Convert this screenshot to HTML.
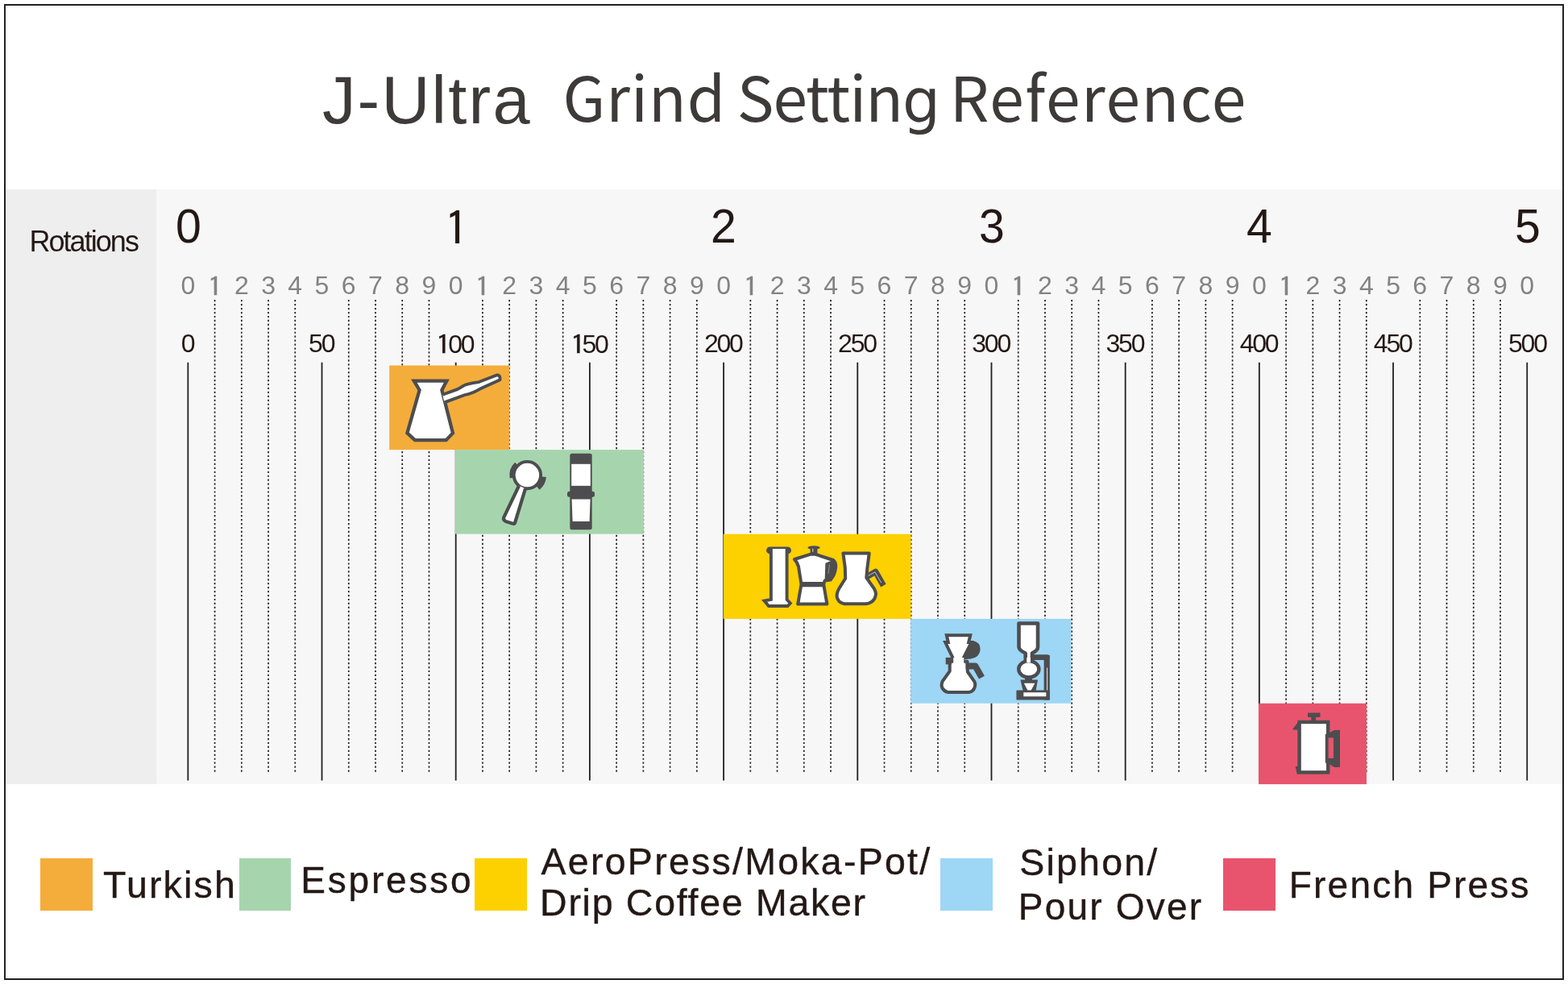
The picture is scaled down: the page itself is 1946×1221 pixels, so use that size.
<!DOCTYPE html>
<html><head><meta charset="utf-8"><title>J-Ultra Grind Setting Reference</title>
<style>
html,body{margin:0;padding:0;background:#fff;}
body{width:1946px;height:1221px;position:relative;overflow:hidden;font-family:"Liberation Sans",Arial,sans-serif;color:#231815;}
.frame{position:absolute;left:5px;top:5px;width:1936px;height:1211px;box-sizing:border-box;border:2px solid #231f20;}
.panel{position:absolute;left:7px;top:235px;width:1932px;height:737.7px;background:#f7f7f7;}
.col{position:absolute;left:7px;top:235px;width:187px;height:737.7px;background:#eeeeee;}
svg.ov{position:absolute;left:0;top:0;}
.t{position:absolute;white-space:pre;line-height:1;}
.sd,.vl,.rt{position:absolute;text-align:center;line-height:1;white-space:pre;}
.sd{width:40px;top:338px;font-size:32px;color:#838383;}
.vl{width:100px;top:410px;font-size:32px;letter-spacing:-2.2px;}
.rt{width:80px;top:252px;font-size:59px;transform:scaleX(0.97);}
.o{font-family:"IPAGothic",sans-serif;display:inline-block;transform:scaleX(1.18);-webkit-text-stroke:0.35px currentColor;}
.sd .o{-webkit-text-stroke:0.3px currentColor;}
.rt .o{-webkit-text-stroke:0px currentColor;transform:scaleX(1.08);}
.sd .o{position:relative;top:2.0px;left:0.4px;font-size:32px;}
.vl .o{position:relative;top:2.0px;left:0px;font-size:32px;}
.rt .o{position:relative;top:0.5px;left:0.6px;font-size:59px;}
.sw{position:absolute;top:1065.0px;width:64.6px;height:64.5px;}
.cjk{font-family:"Noto Sans CJK SC","Liberation Sans",sans-serif;}
.gg{font-family:"DejaVu Sans",sans-serif;font-size:74px;}
</style></head><body>
<div class="frame"></div>
<div class="panel"></div>
<div class="col"></div>
<svg class="ov" width="1946" height="1221" viewBox="0 0 1946 1221">
<line x1="233.33" y1="449.8" x2="233.33" y2="968.6" stroke="#231f20" stroke-width="1.8"/>
<line x1="266.57" y1="372.1" x2="266.57" y2="957.8" stroke="#231f20" stroke-width="1.7" stroke-dasharray="2.2 2.744"/>
<line x1="299.81" y1="372.1" x2="299.81" y2="957.8" stroke="#231f20" stroke-width="1.7" stroke-dasharray="2.2 2.744"/>
<line x1="333.04" y1="372.1" x2="333.04" y2="957.8" stroke="#231f20" stroke-width="1.7" stroke-dasharray="2.2 2.744"/>
<line x1="366.28" y1="372.1" x2="366.28" y2="957.8" stroke="#231f20" stroke-width="1.7" stroke-dasharray="2.2 2.744"/>
<line x1="399.52" y1="449.8" x2="399.52" y2="968.6" stroke="#231f20" stroke-width="1.8"/>
<line x1="432.76" y1="372.1" x2="432.76" y2="957.8" stroke="#231f20" stroke-width="1.7" stroke-dasharray="2.2 2.744"/>
<line x1="466.0" y1="372.1" x2="466.0" y2="957.8" stroke="#231f20" stroke-width="1.7" stroke-dasharray="2.2 2.744"/>
<line x1="499.23" y1="372.1" x2="499.23" y2="957.8" stroke="#231f20" stroke-width="1.7" stroke-dasharray="2.2 2.744"/>
<line x1="532.47" y1="372.1" x2="532.47" y2="957.8" stroke="#231f20" stroke-width="1.7" stroke-dasharray="2.2 2.744"/>
<line x1="565.71" y1="449.8" x2="565.71" y2="968.6" stroke="#231f20" stroke-width="1.8"/>
<line x1="598.95" y1="372.1" x2="598.95" y2="957.8" stroke="#231f20" stroke-width="1.7" stroke-dasharray="2.2 2.744"/>
<line x1="632.19" y1="372.1" x2="632.19" y2="957.8" stroke="#231f20" stroke-width="1.7" stroke-dasharray="2.2 2.744"/>
<line x1="665.42" y1="372.1" x2="665.42" y2="957.8" stroke="#231f20" stroke-width="1.7" stroke-dasharray="2.2 2.744"/>
<line x1="698.66" y1="372.1" x2="698.66" y2="957.8" stroke="#231f20" stroke-width="1.7" stroke-dasharray="2.2 2.744"/>
<line x1="731.9" y1="449.8" x2="731.9" y2="968.6" stroke="#231f20" stroke-width="1.8"/>
<line x1="765.14" y1="372.1" x2="765.14" y2="957.8" stroke="#231f20" stroke-width="1.7" stroke-dasharray="2.2 2.744"/>
<line x1="798.38" y1="372.1" x2="798.38" y2="957.8" stroke="#231f20" stroke-width="1.7" stroke-dasharray="2.2 2.744"/>
<line x1="831.61" y1="372.1" x2="831.61" y2="957.8" stroke="#231f20" stroke-width="1.7" stroke-dasharray="2.2 2.744"/>
<line x1="864.85" y1="372.1" x2="864.85" y2="957.8" stroke="#231f20" stroke-width="1.7" stroke-dasharray="2.2 2.744"/>
<line x1="898.09" y1="449.8" x2="898.09" y2="968.6" stroke="#231f20" stroke-width="1.8"/>
<line x1="931.33" y1="372.1" x2="931.33" y2="957.8" stroke="#231f20" stroke-width="1.7" stroke-dasharray="2.2 2.744"/>
<line x1="964.57" y1="372.1" x2="964.57" y2="957.8" stroke="#231f20" stroke-width="1.7" stroke-dasharray="2.2 2.744"/>
<line x1="997.8" y1="372.1" x2="997.8" y2="957.8" stroke="#231f20" stroke-width="1.7" stroke-dasharray="2.2 2.744"/>
<line x1="1031.04" y1="372.1" x2="1031.04" y2="957.8" stroke="#231f20" stroke-width="1.7" stroke-dasharray="2.2 2.744"/>
<line x1="1064.28" y1="449.8" x2="1064.28" y2="968.6" stroke="#231f20" stroke-width="1.8"/>
<line x1="1097.52" y1="372.1" x2="1097.52" y2="957.8" stroke="#231f20" stroke-width="1.7" stroke-dasharray="2.2 2.744"/>
<line x1="1130.76" y1="372.1" x2="1130.76" y2="957.8" stroke="#231f20" stroke-width="1.7" stroke-dasharray="2.2 2.744"/>
<line x1="1163.99" y1="372.1" x2="1163.99" y2="957.8" stroke="#231f20" stroke-width="1.7" stroke-dasharray="2.2 2.744"/>
<line x1="1197.23" y1="372.1" x2="1197.23" y2="957.8" stroke="#231f20" stroke-width="1.7" stroke-dasharray="2.2 2.744"/>
<line x1="1230.47" y1="449.8" x2="1230.47" y2="968.6" stroke="#231f20" stroke-width="1.8"/>
<line x1="1263.71" y1="372.1" x2="1263.71" y2="957.8" stroke="#231f20" stroke-width="1.7" stroke-dasharray="2.2 2.744"/>
<line x1="1296.95" y1="372.1" x2="1296.95" y2="957.8" stroke="#231f20" stroke-width="1.7" stroke-dasharray="2.2 2.744"/>
<line x1="1330.18" y1="372.1" x2="1330.18" y2="957.8" stroke="#231f20" stroke-width="1.7" stroke-dasharray="2.2 2.744"/>
<line x1="1363.42" y1="372.1" x2="1363.42" y2="957.8" stroke="#231f20" stroke-width="1.7" stroke-dasharray="2.2 2.744"/>
<line x1="1396.66" y1="449.8" x2="1396.66" y2="968.6" stroke="#231f20" stroke-width="1.8"/>
<line x1="1429.9" y1="372.1" x2="1429.9" y2="957.8" stroke="#231f20" stroke-width="1.7" stroke-dasharray="2.2 2.744"/>
<line x1="1463.14" y1="372.1" x2="1463.14" y2="957.8" stroke="#231f20" stroke-width="1.7" stroke-dasharray="2.2 2.744"/>
<line x1="1496.37" y1="372.1" x2="1496.37" y2="957.8" stroke="#231f20" stroke-width="1.7" stroke-dasharray="2.2 2.744"/>
<line x1="1529.61" y1="372.1" x2="1529.61" y2="957.8" stroke="#231f20" stroke-width="1.7" stroke-dasharray="2.2 2.744"/>
<line x1="1562.85" y1="449.8" x2="1562.85" y2="968.6" stroke="#231f20" stroke-width="1.8"/>
<line x1="1596.09" y1="372.1" x2="1596.09" y2="957.8" stroke="#231f20" stroke-width="1.7" stroke-dasharray="2.2 2.744"/>
<line x1="1629.33" y1="372.1" x2="1629.33" y2="957.8" stroke="#231f20" stroke-width="1.7" stroke-dasharray="2.2 2.744"/>
<line x1="1662.56" y1="372.1" x2="1662.56" y2="957.8" stroke="#231f20" stroke-width="1.7" stroke-dasharray="2.2 2.744"/>
<line x1="1695.8" y1="372.1" x2="1695.8" y2="957.8" stroke="#231f20" stroke-width="1.7" stroke-dasharray="2.2 2.744"/>
<line x1="1729.04" y1="449.8" x2="1729.04" y2="968.6" stroke="#231f20" stroke-width="1.8"/>
<line x1="1762.28" y1="372.1" x2="1762.28" y2="957.8" stroke="#231f20" stroke-width="1.7" stroke-dasharray="2.2 2.744"/>
<line x1="1795.52" y1="372.1" x2="1795.52" y2="957.8" stroke="#231f20" stroke-width="1.7" stroke-dasharray="2.2 2.744"/>
<line x1="1828.75" y1="372.1" x2="1828.75" y2="957.8" stroke="#231f20" stroke-width="1.7" stroke-dasharray="2.2 2.744"/>
<line x1="1861.99" y1="372.1" x2="1861.99" y2="957.8" stroke="#231f20" stroke-width="1.7" stroke-dasharray="2.2 2.744"/>
<line x1="1895.23" y1="449.8" x2="1895.23" y2="968.6" stroke="#231f20" stroke-width="1.8"/>
<rect x="483.2" y="453.5" width="149.09999999999997" height="104.60000000000002" fill="#f4ad3b"/>
<rect x="565.0" y="558.1" width="233.89999999999998" height="104.5" fill="#a6d5ad"/>
<rect x="897.8" y="662.7" width="232.70000000000005" height="105.19999999999993" fill="#fdd000"/>
<rect x="1130.2" y="767.9" width="199.0" height="104.89999999999998" fill="#9ed6f5"/>
<rect x="1562.0" y="872.8" width="134.0" height="100.30000000000007" fill="#e8546e"/>
<g fill="#fff" stroke="#4d4d4f" stroke-linejoin="round" stroke-linecap="round">
<!-- Turkish cezve -->
<path d="M513.8,472.6 L554.4,472.6 L548.4,484 L562,537.4 L553.6,546.2 L515,546.2 L505.4,537.4 L520.6,484 Z" stroke-width="4.3" stroke-linejoin="miter"/>
<path d="M549.2,489.8 L567.5,483.1 Q570.5,481.5 573.2,479.8 Q577,477.4 580.6,476.6 Q587,474.8 594.3,474.1 L616.4,465.4 Q619.6,465 620.4,468 L620.6,471.2 L595.8,482.6 Q591.5,485 587.6,486.7 Q582,489 577,490 L551.5,499.4" stroke-width="3.8" stroke-linejoin="round" stroke-linecap="butt"/>
<!-- Espresso portafilter -->
<circle cx="654.4" cy="589.6" r="16.7" stroke-width="3.9"/>
<path d="M635.49,592.93 A19.2,19.2 0 0,1 641.06,575.79" fill="none" stroke-width="5.6" stroke-linecap="butt"/>
<path d="M674.49,591.71 A20.2,20.2 0 0,1 667.38,605.07" fill="none" stroke-width="7" stroke-linecap="butt"/>
<path d="M644.06,602.72 L625.2,642.2 Q624.2,645.6 627.8,647 L636.4,649.8 Q638.6,650.2 639.3,648 L652.1,606.14" stroke-width="4.2" stroke-linejoin="round" stroke-linecap="butt"/>
<!-- AeroPress (green) -->
<rect x="707.3" y="562.8" width="27.4" height="94.5" rx="2.5" fill="#4d4d4f" stroke="none"/>
<rect x="709.2" y="575.8" width="23.6" height="27" fill="#fff" stroke="none"/>
<path d="M709.6,619.6 L732.6,619.6 L731.6,647 L710.6,647 Z" fill="#fff" stroke="none"/>
<rect x="704" y="609.8" width="34" height="7" rx="2.5" fill="#4d4d4f" stroke="none"/>

<!-- AeroPress tall (yellow) -->
<rect x="951.1" y="678.5" width="30.9" height="8.8" rx="4.4" fill="#4d4d4f" stroke="none"/>
<path d="M956.9,681 L956.9,744 L948.6,745.6 L954,752 L977.5,752 L980.8,748.5 L976.6,744 L976.6,681" stroke-width="3.9" stroke-linejoin="miter"/>
<!-- Moka pot -->
<path d="M1005.5,687.8 L986,694 Q989,697 991,703 L994.5,725 L990.2,749.6 L1026.4,749.6 L1022.2,725 L1023.6,720.6 L1030.6,719.6 Q1036.2,713.5 1037.2,704 Q1037.6,697.5 1034,695 L1012.2,687.8 Z" stroke-width="4"/>
<rect x="993" y="722" width="30.4" height="6.3" fill="#4d4d4f" stroke="none"/>
<path d="M1024.4,698.8 Q1029,696.2 1034,695.2 Q1037.6,697.5 1037.2,704 Q1036.2,713.5 1030.6,719.6 L1023.6,720.6 Z" fill="#4d4d4f" stroke="none"/>
<path d="M1029.4,701 L1028,711.5" stroke="#c9c3a0" stroke-width="0.6" fill="none"/>
<path d="M1002.3,680 Q1002.6,677.2 1010,677.2 Q1017.4,677.2 1017.8,680 L1014.4,681.6 L1014.4,688.4 L1005.6,688.4 L1005.6,681.6 Z" fill="#4d4d4f" stroke="none"/>
<path d="M1008.8,681 L1008.8,684.6" stroke="#e8e8e8" stroke-width="0.9" fill="none"/>
<!-- Carafe -->
<path d="M1072.5,717.8 L1086.6,709.4 L1096.4,726.6" fill="none" stroke-width="7.4" stroke-linecap="butt" stroke-linejoin="round"/>
<path d="M1074,716.4 L1085.8,709.8 L1093.8,723.2" fill="none" stroke="#e0e0e0" stroke-width="0.8" stroke-linecap="butt"/>
<path d="M1046.4,686.5 L1078.7,686.5 L1076.3,705.6 L1075.3,716.8 L1085,730.7 Q1088,736 1086.4,740 Q1085,746 1078,748.6 L1074.6,749.2 L1048.1,749.2 Q1042,748 1040.4,744.6 Q1038,741 1038.7,737.7 Q1039.5,733 1041.5,730 L1049.2,717.8 L1048.8,704.2 Z" stroke-width="4"/>

<!-- Pour over (blue) -->
<path d="M1178.7,820.8 L1178.7,832.8 L1169.6,845.5 Q1167.6,850 1169.5,853.9 Q1172,858 1176.2,858.9 L1203,858.9 Q1207.5,858 1209.3,853.9 Q1211,849.5 1209.6,846.2 L1200.8,833.5 L1200.5,820.8 Z" stroke-width="4"/>
<rect x="1173.7" y="815.9" width="7.4" height="8.5" fill="#4d4d4f" stroke="none"/>
<path d="M1203.5,795.2 L1207,795 Q1216.6,796.5 1216.6,806 Q1216,815.5 1205,817.5 L1196.5,818.2 L1205.6,797 Z" fill="#4d4d4f" stroke="none"/>
<path d="M1198.5,826.6 L1210.5,826.6 L1218.4,840.6" fill="none" stroke-width="8" stroke-linecap="butt" stroke-linejoin="round"/>
<path d="M1174.8,788.3 L1204.3,788.3 L1202.2,797 L1205.6,797 L1194.8,818.5 L1183.6,818.5 L1173.2,797 L1176.8,797 Z" stroke-width="4" stroke-linejoin="miter"/>
<rect x="1183.2" y="816" width="13" height="7" fill="#fff" stroke="none"/>
<!-- Siphon -->
<rect x="1280.6" y="812.3" width="21.8" height="6.6" rx="2" fill="#4d4d4f" stroke="none"/>
<rect x="1295.6" y="813" width="7.2" height="55.6" fill="#4d4d4f" stroke="none"/>
<path d="M1299.6,829 L1299.6,864" stroke="#fff" stroke-width="0.9" fill="none"/>
<path d="M1264.5,773.5 L1288,773.5 L1288,803 Q1288,807 1281,810.5 L1280.8,819 L1272.8,819 L1272.6,810.5 Q1265,807 1264.5,803 Z" stroke-width="4.6"/>
<ellipse cx="1276.8" cy="830.3" rx="12.6" ry="10.2" stroke-width="4.4"/>
<rect x="1274.2" y="816" width="4.8" height="6" fill="#fff" stroke="none"/>
<rect x="1272" y="840" width="9" height="6" fill="#4d4d4f" stroke="none"/>
<path d="M1266.4,843.4 L1288,843.4 L1285.6,857 L1269.6,857 Z" fill="#4d4d4f" stroke="none"/>
<path d="M1270.8,847.8 L1284.4,847.8 L1278.6,858.6 L1276.4,858.6 Z" fill="#fff" stroke="none"/>
<rect x="1261.4" y="856.6" width="41.4" height="12" rx="1" fill="#4d4d4f" stroke="none"/>
<rect x="1270.3" y="859.2" width="28" height="5" fill="#fff" stroke="none"/>

<!-- French press -->
<path d="M1603.9,905.2 L1610.8,896.2 L1610.8,905.8 Z" fill="#4d4d4f" stroke="none"/>
<path d="M1607.6,951 L1612,951 L1612,960.6 L1609.7,960.6 Z" fill="#4d4d4f" stroke="none"/>
<rect x="1612.6" y="896" width="35.6" height="62.4" stroke-width="4.4" stroke-linejoin="miter"/>
<rect x="1623" y="884.5" width="15.5" height="5.4" fill="#4d4d4f" stroke="none"/>
<rect x="1627.3" y="889" width="5.8" height="6" fill="#4d4d4f" stroke="none"/>
<path d="M1644.8,911 L1649.6,909.4 L1655.8,906 L1663,905.8 L1663,952.1 L1655.8,952 L1649.6,948 L1644.8,946.4 Z" fill="#4d4d4f" stroke="none"/>
<rect x="1648.6" y="915.4" width="6.4" height="25.5" fill="#e8546e" stroke="none"/>
</g>

</svg>
<div class="sw" style="left:50.4px;background:#f4ad3b"></div>
<div class="sw" style="left:296.6px;background:#a6d5ad"></div>
<div class="sw" style="left:589.4px;background:#fdd000"></div>
<div class="sw" style="left:1167.3px;background:#9ed6f5"></div>
<div class="sw" style="left:1518.2px;background:#e8546e"></div>

<div class="t " style="left:399.90px;top:82.60px;font-size:83px;letter-spacing:2.211px;color:#3e3a3a;">J-Ultra</div>
<div class="t cjk" style="left:698.50px;top:79.50px;font-size:76.7px;letter-spacing:0.950px;color:#3e3a3a;">Grind</div>
<div class="t cjk" style="left:914.80px;top:79.50px;font-size:76.7px;letter-spacing:-1.030px;color:#3e3a3a;">Settin<span class="gg">g</span></div>
<div class="t cjk" style="left:1178.80px;top:79.50px;font-size:76.7px;letter-spacing:1.560px;color:#3e3a3a;">Reference</div>
<div class="t " style="left:36.40px;top:282.00px;font-size:36px;letter-spacing:-1.950px;">Rotations</div>
<span class="rt" style="left:193.73px">0</span>
<span class="rt" style="left:526.11px"><span class="o">1</span></span>
<span class="rt" style="left:858.49px">2</span>
<span class="rt" style="left:1190.87px">3</span>
<span class="rt" style="left:1523.25px">4</span>
<span class="rt" style="left:1855.63px">5</span>
<span class="sd" style="left:213.33px">0</span>
<span class="sd" style="left:246.57px"><span class="o">1</span></span>
<span class="sd" style="left:279.81px">2</span>
<span class="sd" style="left:313.04px">3</span>
<span class="sd" style="left:346.28px">4</span>
<span class="sd" style="left:379.52px">5</span>
<span class="sd" style="left:412.76px">6</span>
<span class="sd" style="left:446.00px">7</span>
<span class="sd" style="left:479.23px">8</span>
<span class="sd" style="left:512.47px">9</span>
<span class="sd" style="left:545.71px">0</span>
<span class="sd" style="left:578.95px"><span class="o">1</span></span>
<span class="sd" style="left:612.19px">2</span>
<span class="sd" style="left:645.42px">3</span>
<span class="sd" style="left:678.66px">4</span>
<span class="sd" style="left:711.90px">5</span>
<span class="sd" style="left:745.14px">6</span>
<span class="sd" style="left:778.38px">7</span>
<span class="sd" style="left:811.61px">8</span>
<span class="sd" style="left:844.85px">9</span>
<span class="sd" style="left:878.09px">0</span>
<span class="sd" style="left:911.33px"><span class="o">1</span></span>
<span class="sd" style="left:944.57px">2</span>
<span class="sd" style="left:977.80px">3</span>
<span class="sd" style="left:1011.04px">4</span>
<span class="sd" style="left:1044.28px">5</span>
<span class="sd" style="left:1077.52px">6</span>
<span class="sd" style="left:1110.76px">7</span>
<span class="sd" style="left:1143.99px">8</span>
<span class="sd" style="left:1177.23px">9</span>
<span class="sd" style="left:1210.47px">0</span>
<span class="sd" style="left:1243.71px"><span class="o">1</span></span>
<span class="sd" style="left:1276.95px">2</span>
<span class="sd" style="left:1310.18px">3</span>
<span class="sd" style="left:1343.42px">4</span>
<span class="sd" style="left:1376.66px">5</span>
<span class="sd" style="left:1409.90px">6</span>
<span class="sd" style="left:1443.14px">7</span>
<span class="sd" style="left:1476.37px">8</span>
<span class="sd" style="left:1509.61px">9</span>
<span class="sd" style="left:1542.85px">0</span>
<span class="sd" style="left:1576.09px"><span class="o">1</span></span>
<span class="sd" style="left:1609.33px">2</span>
<span class="sd" style="left:1642.56px">3</span>
<span class="sd" style="left:1675.80px">4</span>
<span class="sd" style="left:1709.04px">5</span>
<span class="sd" style="left:1742.28px">6</span>
<span class="sd" style="left:1775.52px">7</span>
<span class="sd" style="left:1808.75px">8</span>
<span class="sd" style="left:1841.99px">9</span>
<span class="sd" style="left:1875.23px">0</span>
<span class="vl" style="left:182.53px">0</span>
<span class="vl" style="left:348.72px">50</span>
<span class="vl" style="left:514.91px"><span class="o">1</span>00</span>
<span class="vl" style="left:681.10px"><span class="o">1</span>50</span>
<span class="vl" style="left:847.29px">200</span>
<span class="vl" style="left:1013.48px">250</span>
<span class="vl" style="left:1179.67px">300</span>
<span class="vl" style="left:1345.86px">350</span>
<span class="vl" style="left:1512.05px">400</span>
<span class="vl" style="left:1678.24px">450</span>
<span class="vl" style="left:1845.43px">500</span>
<div class="t " style="left:128.00px;top:1075.20px;font-size:46.5px;letter-spacing:2.200px;-webkit-text-stroke:0.4px #231815;">Turkish</div>
<div class="t " style="left:373.30px;top:1069.20px;font-size:46px;letter-spacing:2.800px;-webkit-text-stroke:0.4px #231815;">Espresso</div>
<div class="t " style="left:671.60px;top:1046.30px;font-size:46.5px;letter-spacing:2.260px;-webkit-text-stroke:0.4px #231815;">AeroPress/Moka-Pot/</div>
<div class="t " style="left:670.10px;top:1096.70px;font-size:46.5px;letter-spacing:1.720px;-webkit-text-stroke:0.4px #231815;">Drip Coffee Maker</div>
<div class="t " style="left:1265.20px;top:1047.00px;font-size:46.5px;letter-spacing:2.230px;-webkit-text-stroke:0.4px #231815;">Siphon/</div>
<div class="t " style="left:1263.80px;top:1102.00px;font-size:46px;letter-spacing:2.200px;-webkit-text-stroke:0.4px #231815;">Pour Over</div>
<div class="t " style="left:1599.80px;top:1075.30px;font-size:46px;letter-spacing:2.200px;-webkit-text-stroke:0.4px #231815;">French Press</div>

</body></html>
